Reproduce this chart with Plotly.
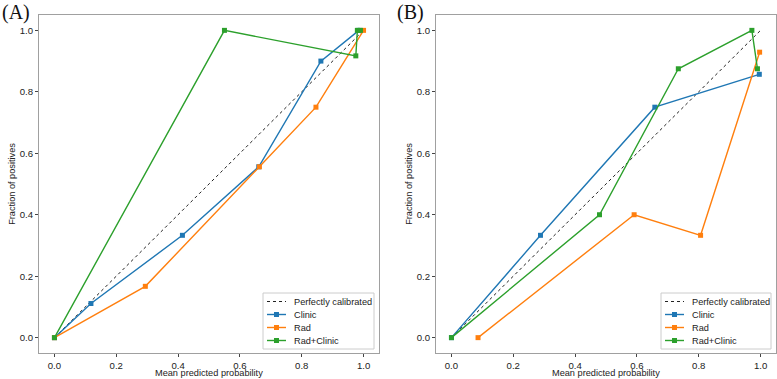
import plotly.graph_objects as go

# Panel A data
a_clinic_x = [0.0, 0.118, 0.414, 0.661, 0.862, 0.985]
a_clinic_y = [0.0, 0.111, 0.333, 0.556, 0.900, 1.000]
a_rad_x = [0.0, 0.294, 0.663, 0.846, 1.0]
a_rad_y = [0.0, 0.167, 0.556, 0.750, 1.0]
a_comb_x = [0.0, 0.55, 0.975, 0.98, 0.99]
a_comb_y = [0.0, 1.0, 0.917, 1.0, 1.0]

# Panel B data
b_clinic_x = [0.0, 0.288, 0.658, 0.996]
b_clinic_y = [0.0, 0.333, 0.750, 0.857]
b_rad_x = [0.086, 0.591, 0.806, 0.997]
b_rad_y = [0.0, 0.400, 0.333, 0.929]
b_comb_x = [0.0, 0.479, 0.734, 0.972, 0.99]
b_comb_y = [0.0, 0.400, 0.875, 1.000, 0.875]

diag = [0.0, 1.0]
diag_name = "Perfectly calibrated"
names = ["Clinic", "Rad", "Rad+Clinic"]
colors = ["#1f77b4", "#ff7f0e", "#2ca02c"]
tick_vals = [0.0, 0.2, 0.4, 0.6, 0.8, 1.0]
tick_text = ["0.0", "0.2", "0.4", "0.6", "0.8", "1.0"]
panel_labels = ["(A)", "(B)"]
x_title = "Mean predicted probability"
y_title = "Fraction of positives"

W, H = 777, 379
ML, MR, MT, MB = 39, 1, 15, 26
PW = W - ML - MR
PH = H - MT - MB
def dx(p): return (p - ML) / PW
def dy(p): return (H - MB - p) / PH

fig = go.Figure()

panels = [
    ("x", "y", [(a_clinic_x, a_clinic_y), (a_rad_x, a_rad_y), (a_comb_x, a_comb_y)]),
    ("x2", "y2", [(b_clinic_x, b_clinic_y), (b_rad_x, b_rad_y), (b_comb_x, b_comb_y)]),
]
for xa, ya, series in panels:
    fig.add_trace(go.Scatter(x=diag, y=diag, mode="lines", name=diag_name,
                             line=dict(color="#222222", dash="dot", width=1),
                             xaxis=xa, yaxis=ya, showlegend=False))
    for (sx, sy), nm, c in zip(series, names, colors):
        fig.add_trace(go.Scatter(x=sx, y=sy, mode="lines+markers", name=nm,
                                 line=dict(color=c, width=1.4),
                                 marker=dict(symbol="square", size=5, color=c),
                                 xaxis=xa, yaxis=ya, showlegend=False))

axis_common = dict(range=[-0.05, 1.05], tickvals=tick_vals, ticktext=tick_text,
                   ticks="outside", ticklen=3, tickcolor="#444", tickwidth=1,
                   showgrid=False, zeroline=False, showline=True, mirror=True,
                   linecolor="#a0a0a0", linewidth=1.2, automargin=False,
                   tickfont=dict(family="Liberation Sans, Arial", size=9.6, color="#222"))

title_font = dict(family="Liberation Sans, Arial", size=9.2, color="#222")

shapes = []
annotations = []

# compact matplotlib-style legends (drawn in paper space)
legend_lefts = [263, 661]
legend_rights = [374, 771]
leg_top, leg_bottom = 293, 349
row_y = [301.5, 314.5, 327.5, 340.5]
entries = [(diag_name, "#222222", "dot", False)] + [(n, c, "solid", True) for n, c in zip(names, colors)]
for L, R in zip(legend_lefts, legend_rights):
    shapes.append(dict(type="rect", xref="paper", yref="paper",
                       x0=dx(L), x1=dx(R), y0=dy(leg_bottom), y1=dy(leg_top),
                       line=dict(color="#cccccc", width=1), fillcolor="rgba(255,255,255,0.85)",
                       layer="above"))
    for (label, col, dash, has_marker), yy in zip(entries, row_y):
        shapes.append(dict(type="line", xref="paper", yref="paper",
                           x0=dx(L + 4), x1=dx(L + 23), y0=dy(yy), y1=dy(yy),
                           line=dict(color=col, width=1.4 if has_marker else 1, dash=dash),
                           layer="above"))
        if has_marker:
            cx = L + 13.5
            shapes.append(dict(type="rect", xref="paper", yref="paper",
                               x0=dx(cx - 2.5), x1=dx(cx + 2.5), y0=dy(yy + 2.5), y1=dy(yy - 2.5),
                               line=dict(width=0), fillcolor=col, layer="above"))
        annotations.append(dict(text=label, x=dx(L + 29), y=dy(yy), xref="paper", yref="paper",
                                xanchor="left", yanchor="middle", showarrow=False,
                                font=dict(family="Liberation Sans, Arial", size=9.2, color="#222")))

for lab, lx in zip(panel_labels, [0, 395]):
    annotations.append(dict(text=lab, x=dx(lx), y=1 + MT / PH, xref="paper", yref="paper",
                            xanchor="left", yanchor="top", yshift=1, showarrow=False,
                            font=dict(family="Liberation Serif, Times New Roman", size=20, color="#111")))

# x-axis titles placed just under the tick labels
for cx in [(39 + 379) / 2, (436 + 776) / 2]:
    annotations.append(dict(text=x_title, x=dx(cx), y=dy(379), xref="paper", yref="paper",
                            xanchor="center", yanchor="bottom", showarrow=False, borderpad=0,
                            font=title_font))

fig.update_layout(
    width=W, height=H, margin=dict(l=ML, r=MR, t=MT, b=MB, autoexpand=False),
    paper_bgcolor="white", plot_bgcolor="white", showlegend=False,
    xaxis=dict(domain=[0, dx(379)], anchor="y", **axis_common),
    yaxis=dict(domain=[0, 1], anchor="x",
               title=dict(text=y_title, font=title_font, standoff=2), **axis_common),
    xaxis2=dict(domain=[dx(436), 1], anchor="y2", **axis_common),
    yaxis2=dict(domain=[0, 1], anchor="x2",
                title=dict(text=y_title, font=title_font, standoff=2), **axis_common),
    shapes=shapes,
    annotations=annotations,
)

fig.write_html("out.html", config={"displayModeBar": False},
               post_script="document.body.style.margin='0';document.body.style.overflow='hidden';")
